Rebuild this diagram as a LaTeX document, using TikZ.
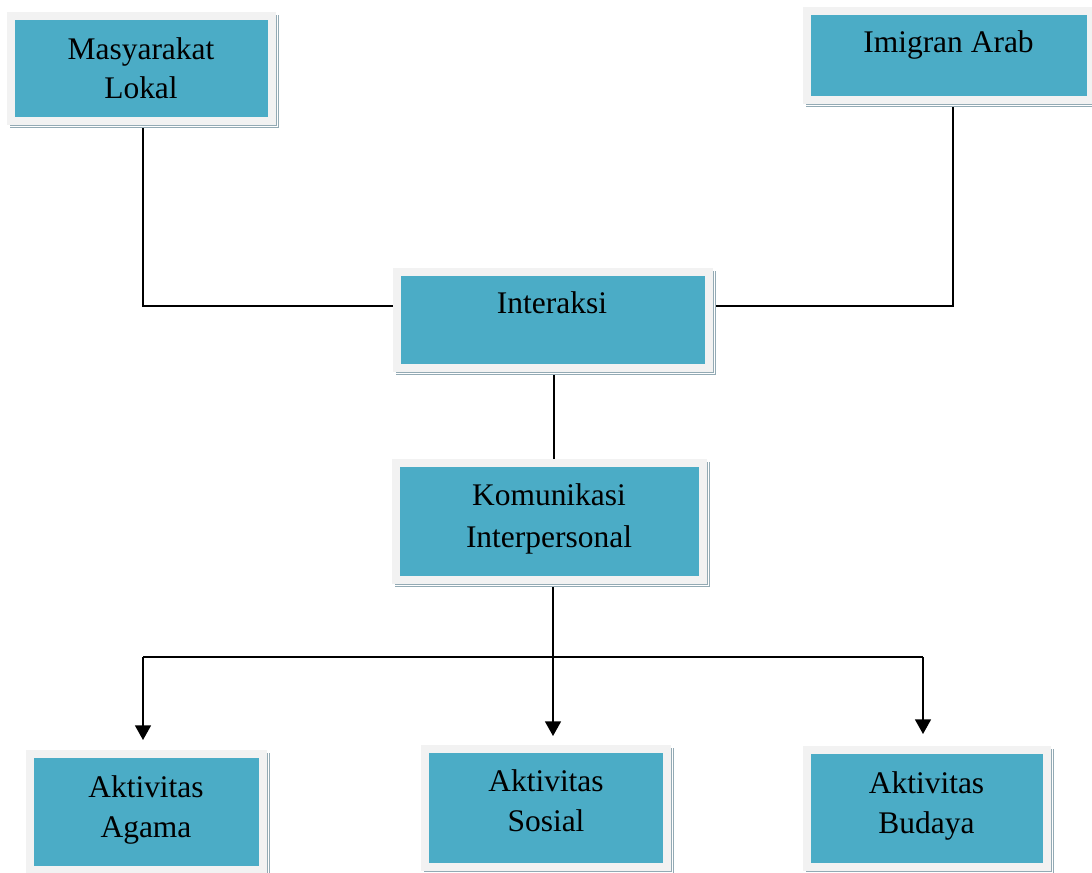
\documentclass[tikz,border=0pt]{standalone}
\usepackage{fontspec}
\setmainfont{Liberation Serif}
\usetikzlibrary{arrows.meta,calc,backgrounds}
\definecolor{teal1}{HTML}{4BACC6}
\definecolor{frame1}{HTML}{F2F2F2}
\definecolor{shad1}{HTML}{93AAB4}
\tikzset{
  boxshape/.style={draw=frame1, fill=teal1, line width=6pt, inner sep=0pt, outer sep=0pt},
  lbl/.style={anchor=base, inner sep=0pt, font=\fontsize{23.6}{28}\selectfont},
  conn/.style={line width=1.2pt, draw=black},
  arr/.style={conn, -{Triangle[width=12pt,length=11pt]}},
}
% #1 name, #2 x0, #3 y0, #4 x1, #5 y1 (frame centre line, px)
\newcommand\mkbox[5]{%
  \pgfmathsetmacro\bwd{(#4-#2)*0.75}%
  \pgfmathsetmacro\bht{(#5-#3)*0.75}%
  \fill[shad1] ({#2-1},{#3-1}) rectangle ({#4+7},{#5+7.5});
  \draw[white, line width=0.7pt] ({#2-2.5},{#3-2.5}) rectangle ({#4+5.5},{#5+5.5});
  \node[boxshape, minimum width=\bwd pt, minimum height=\bht pt] (#1) at ({(#2+#4)/2},{(#3+#5)/2}) {};
}
\begin{document}
\begin{tikzpicture}[x=0.75pt, y=-0.75pt]
\useasboundingbox (0,0) rectangle (1092,873);
\begin{pgfonlayer}{background}
  \fill[white] (0,0) rectangle (1092,873);
\end{pgfonlayer}

\mkbox{mas}{11}{16}{272}{121}
\mkbox{imi}{807}{11}{1091}{100}
\mkbox{int}{396.5}{272}{709}{368}
\mkbox{kom}{396}{463}{703}{579.5}
\mkbox{aga}{29.5}{754}{263}{869.5}
\mkbox{sos}{424.5}{749}{667}{866.5}
\mkbox{bud}{807}{750}{1047}{866.5}

\node[lbl] (mas-a) at (141,60) {Masyarakat};
\node[lbl] (mas-b) at (141,99) {Lokal};
\node[lbl] (imi-a) at (948.5,53) {Imigran Arab};
\node[lbl] (int-a) at (552,314) {Interaksi};
\node[lbl] (kom-a) at (549,505) {Komunikasi};
\node[lbl] (kom-b) at (549,547) {Interpersonal};
\node[lbl] (aga-a) at (146,797) {Aktivitas};
\node[lbl] (aga-b) at (146,837) {Agama};
\node[lbl] (sos-a) at (546,791) {Aktivitas};
\node[lbl] (sos-b) at (546,831) {Sosial};
\node[lbl] (bud-a) at (926.5,793) {Aktivitas};
\node[lbl] (bud-b) at (926.5,833) {Budaya};

\coordinate (jL) at (143,657);
\coordinate (jM) at (553,657);
\coordinate (jR) at (923,657);
\coordinate (iS) at ($(int.south)+(1.25,0)$);
\coordinate (mS) at ($(mas.south)+(1.5,0)$);
\coordinate (aS) at ($(imi.south)+(4,0)$);
\coordinate (iW) at ($(int.west)+(0,-14)$);
\coordinate (iE) at ($(int.east)+(0,-14)$);

\begin{pgfonlayer}{background}
  \draw[conn] (mS) |- (iW);
  \draw[conn] (aS) |- (iE);
  \draw[conn] (iS) -- (iS |- kom.north);
  \draw[conn] (kom.south -| jM) -- (jM);
  \draw[conn] (jL) -- (jR);
  \draw[arr, shorten >=10.5pt] (jL) -- (jL |- aga.north);
  \draw[arr, shorten >=9.75pt] (jM) -- (jM |- sos.north);
  \draw[arr, shorten >=12pt] (jR) -- (jR |- bud.north);
\end{pgfonlayer}
\end{tikzpicture}
\end{document}
